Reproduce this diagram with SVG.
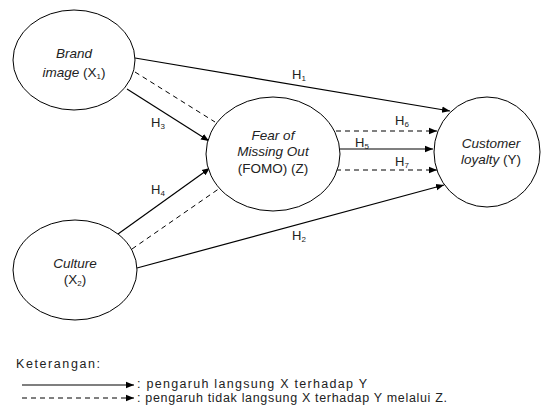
<svg xmlns="http://www.w3.org/2000/svg" width="541" height="405" viewBox="0 0 541 405">
<defs>
<marker id="arr" viewBox="0 0 10 10" refX="10" refY="5" markerWidth="8" markerHeight="8" markerUnits="userSpaceOnUse" orient="auto">
<path d="M0,1 L10,5 L0,9 z" fill="#000"/>
</marker>
</defs>
<style>
.node{fill:#fff;stroke:#000;stroke-width:1}
.t{font-family:"Liberation Sans",Arial,sans-serif;font-size:13.5px;fill:#222}
.h{font-family:"Liberation Sans",Arial,sans-serif;font-size:13px;fill:#222}
.i{font-style:italic}
.s{stroke:#000;stroke-width:1.2;fill:none}
.d{stroke:#000;stroke-width:1;fill:none;stroke-dasharray:5,4}
.lg{font-family:"Liberation Sans",Arial,sans-serif;font-size:12.5px;fill:#222}
</style>
<rect width="541" height="405" fill="#fff"/>
<g id="connectors">
<line class="s" x1="135" y1="58" x2="450" y2="111" marker-end="url(#arr)"/>
<line class="d" x1="135" y1="72" x2="215" y2="122"/>
<line class="s" x1="127" y1="89" x2="209" y2="141" marker-end="url(#arr)"/>
<line class="s" x1="118" y1="234" x2="210" y2="168" marker-end="url(#arr)"/>
<line class="d" x1="132" y1="249" x2="220" y2="188"/>
<line class="s" x1="137" y1="268" x2="444" y2="185" marker-end="url(#arr)"/>
<line class="s" x1="340" y1="149" x2="433" y2="149" marker-end="url(#arr)"/>
<line class="d" x1="336" y1="131" x2="437" y2="131" marker-end="url(#arr)"/>
<line class="d" x1="336" y1="170" x2="437" y2="170" marker-end="url(#arr)"/>
<text class="h" x="292" y="79">H<tspan font-size="8" dy="2">1</tspan></text>
<text class="h" x="292" y="240">H<tspan font-size="8" dy="2">2</tspan></text>
<text class="h" x="151" y="127">H<tspan font-size="8" dy="2">3</tspan></text>
<text class="h" x="151" y="194">H<tspan font-size="8" dy="2">4</tspan></text>
<text class="h" x="355" y="147">H<tspan font-size="8" dy="2">5</tspan></text>
<text class="h" x="395" y="125">H<tspan font-size="8" dy="2">6</tspan></text>
<text class="h" x="395" y="166">H<tspan font-size="8" dy="2">7</tspan></text>
</g>
<g id="brand">
<ellipse class="node" cx="74" cy="60" rx="61" ry="50"/>
<text class="t i" x="74" y="58" text-anchor="middle">Brand</text>
<text class="t" x="74" y="77" text-anchor="middle"><tspan font-style="italic">image</tspan> (X<tspan font-size="8" dy="2">1</tspan><tspan dy="-2">)</tspan></text>
</g>
<g id="culture">
<ellipse class="node" cx="75" cy="270" rx="62" ry="50"/>
<text class="t i" x="75" y="268" text-anchor="middle">Culture</text>
<text class="t" x="75" y="284" text-anchor="middle">(X<tspan font-size="8" dy="2">2</tspan><tspan dy="-2">)</tspan></text>
</g>
<g id="fomo">
<ellipse class="node" cx="273" cy="154" rx="67" ry="57"/>
<text class="t i" x="273" y="140" text-anchor="middle">Fear of</text>
<text class="t i" x="273" y="156" text-anchor="middle">Missing Out</text>
<text class="t" x="273" y="173" text-anchor="middle">(FOMO) (Z)</text>
</g>
<g id="loyalty">
<ellipse class="node" cx="487" cy="152" rx="53" ry="55"/>
<text class="t i" x="491" y="148" text-anchor="middle">Customer</text>
<text class="t" x="491" y="164" text-anchor="middle"><tspan font-style="italic">loyalty</tspan> (Y)</text>
</g>
<g id="legend">
<text class="lg" x="16" y="368" font-size="13.5" textLength="84" lengthAdjust="spacing">Keterangan:</text>
<line class="s" x1="22" y1="385" x2="134" y2="385" marker-end="url(#arr)"/>
<text class="lg" x="137" y="388" textLength="230" lengthAdjust="spacing">: pengaruh langsung X terhadap Y</text>
<line class="d" x1="22" y1="398" x2="134" y2="398" marker-end="url(#arr)"/>
<text class="lg" x="137" y="402" textLength="310" lengthAdjust="spacing">: pengaruh tidak langsung X terhadap Y melalui Z.</text>
</g>
</svg>
